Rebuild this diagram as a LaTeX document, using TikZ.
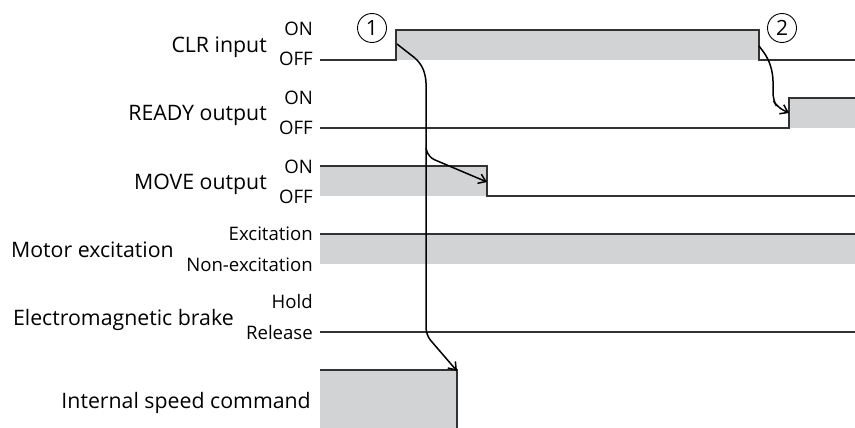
\documentclass[tikz,border=0pt]{standalone}
\usepackage{fontspec}
\setmainfont{Open Sans}
\usetikzlibrary{arrows.meta}
\definecolor{sigfill}{RGB}{210,211,212}
\definecolor{sigline}{RGB}{50,50,50}

\begin{document}
\begin{tikzpicture}[x=1pt,y=-1pt,
    sig name/.style={anchor=base east,inner sep=0pt,font=\fontsize{21.3}{24}\selectfont},
    level/.style={anchor=base east,inner sep=0pt,font=\fontsize{18.6}{21}\selectfont},
    wave/.style={draw=sigline,line width=1.1pt},
    band/.style={fill=sigfill},
    cause/.style={line width=1.5pt,rounded corners=7pt,-{Straight Barb[length=7pt,width=10pt]}},
    step num/.style={circle,draw,line width=0.9pt,inner sep=0pt,minimum size=29pt,font=\fontsize{21}{22}\selectfont}]
    \useasboundingbox (0,0) rectangle (855,428);

    % signal names
    \node[sig name] (clr)   at (267,53)  {CLR input};
    \node[sig name] (ready) at (267,121) {READY output};
    \node[sig name] (move)  at (267,189) {MOVE output};
    \node[sig name] (motor) at (174,257) {Motor excitation};
    \node[sig name] (brake) at (234,325) {Electromagnetic brake};
    \node[sig name] (speed) at (311,408) {Internal speed command};

    % levels
    \node[level] (clr on)    at (313,36)  {ON};
    \node[level] (clr off)   at (313,66)  {OFF};
    \node[level] (ready on)  at (313,105) {ON};
    \node[level] (ready off) at (313,135) {OFF};
    \node[level] (move on)   at (313,173) {ON};
    \node[level] (move off)  at (313,203) {OFF};
    \node[level] (motor on)  at (313,240) {Excitation};
    \node[level] (motor off) at (313,271) {Non-excitation};
    \node[level] (brake on)  at (313,308) {Hold};
    \node[level] (brake off) at (313,339) {Release};

    % gray bands
    \fill[band] (396,30) rectangle (759,60);
    \fill[band] (789,98) rectangle (855,128);
    \fill[band] (320,166) rectangle (487,196);
    \fill[band] (320,234) rectangle (855,264);
    \fill[band] (320,370) rectangle (457,428);

    % waveforms
    \draw[wave] (320,60) -- (396,60) -- (396,30) -- (759,30) -- (759,60) -- (855,60);
    \draw[wave] (320,128) -- (789,128) -- (789,98) -- (855,98);
    \draw[wave] (320,166) -- (487,166) -- (487,196) -- (855,196);
    \draw[wave] (320,234) -- (855,234);
    \draw[wave] (320,332) -- (855,332);
    \draw[wave] (320,370) -- (457,370) -- (457,428);

    \node[step num] (n1) at (372,28) {1};
    \node[step num] (n2) at (782,28) {2};

    \coordinate (clr rise)   at (397,44);
    \coordinate (clr fall)   at (759,46);
    \coordinate (move fall)  at (487,182);
    \coordinate (speed stop) at (457,371);
    \coordinate (ready rise) at (789,113);

    \draw[cause] (clr rise) -- (420,62) -- (426,76) -- (426,335) -- (speed stop);
    \draw[cause] (426,148) -- (428,157) -- (move fall);
    \draw[cause] (clr fall) -- (768,58) -- (773,74) -- (773,100) -- (777,107) -- (ready rise);
\end{tikzpicture}
\end{document}
